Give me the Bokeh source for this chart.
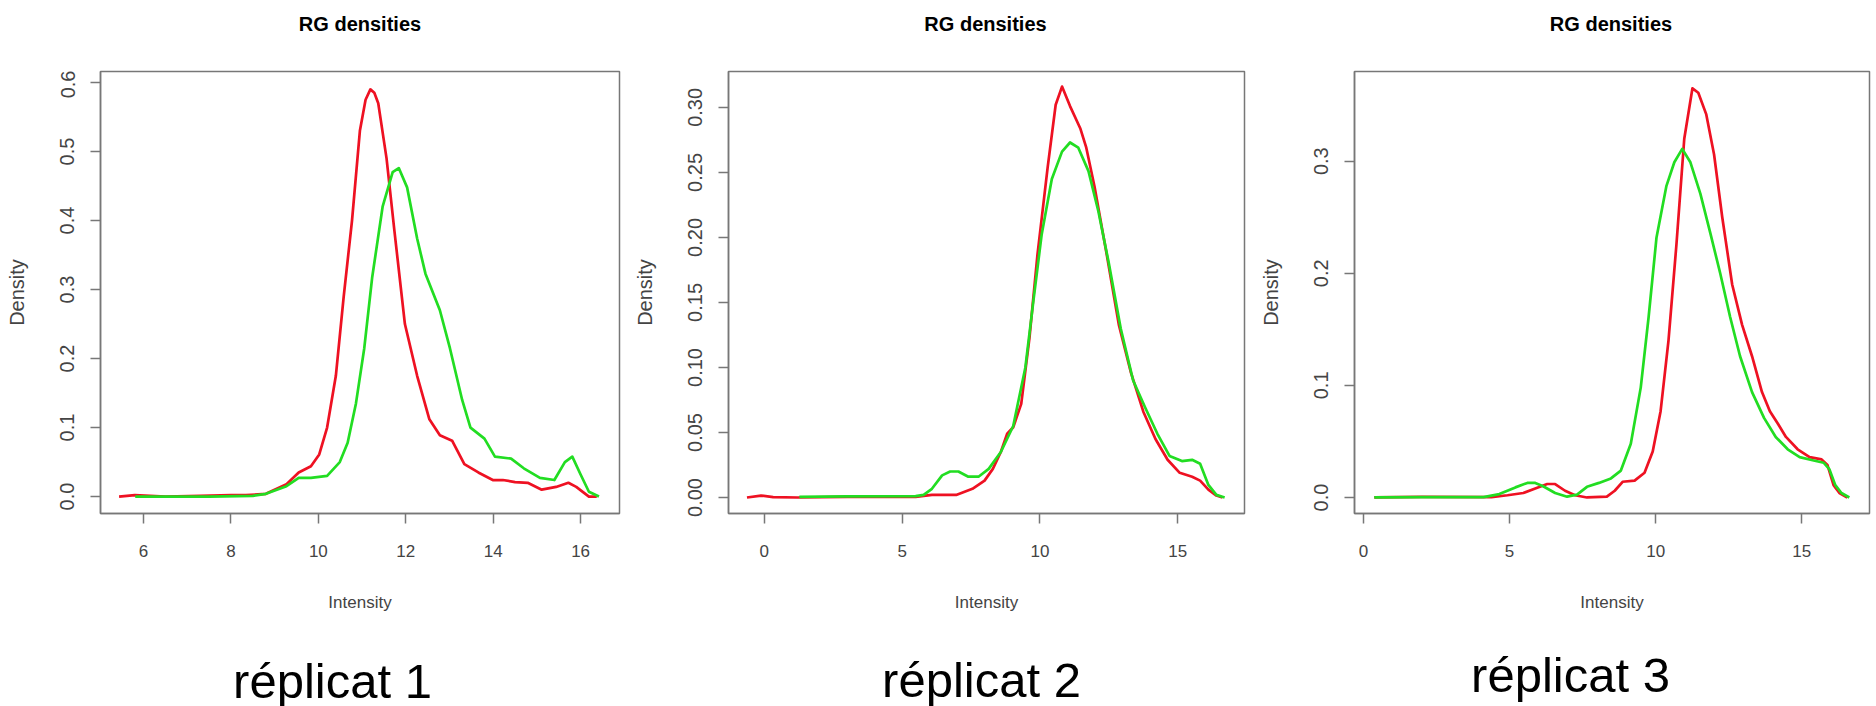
from bokeh.plotting import figure
from bokeh.layouts import row, column
from bokeh.models import FixedTicker, PrintfTickFormatter, Range1d, ColumnDataSource
from bokeh.core.properties import value
from bokeh.embed import file_html
from bokeh.resources import INLINE

# ---------------- data ----------------
title_text = "RG densities"
x_label = "Intensity"
y_label = "Density"
captions = ["réplicat 1", "réplicat 2", "réplicat 3"]

# réplicat 1
r1_x = [5.44, 5.8, 6.5, 7.3, 8.0, 8.34, 8.8, 9.27, 9.55, 9.83, 10.02, 10.2, 10.4, 10.58, 10.77,
        10.95, 11.08, 11.19, 11.28, 11.37, 11.56, 11.74, 11.98, 12.26, 12.54, 12.78, 13.06, 13.34,
        13.66, 13.99, 14.22, 14.5, 14.79, 15.11, 15.44, 15.72, 15.9, 16.19, 16.37]
r1_y = [0.0, 0.002, 0.0, 0.001, 0.002, 0.002, 0.004, 0.018, 0.035, 0.044, 0.061, 0.10, 0.175, 0.29, 0.40,
        0.53, 0.575, 0.59, 0.585, 0.57, 0.49, 0.385, 0.25, 0.175, 0.112, 0.089, 0.081, 0.047,
        0.035, 0.024, 0.024, 0.021, 0.02, 0.01, 0.014, 0.02, 0.014, 0.0, 0.0]
g1_x = [5.81, 6.5, 7.5, 8.5, 8.8, 9.27, 9.55, 9.83, 10.2, 10.49, 10.67, 10.86, 11.05, 11.23, 11.47,
        11.7, 11.84, 12.03, 12.26, 12.45, 12.78, 13.01, 13.29, 13.48, 13.8, 14.04, 14.41, 14.7,
        15.07, 15.4, 15.64, 15.81, 16.0, 16.19, 16.42]
g1_y = [0.0, 0.0, 0.0, 0.001, 0.004, 0.015, 0.027, 0.027, 0.03, 0.05, 0.078, 0.135, 0.215, 0.317, 0.42,
        0.47, 0.476, 0.448, 0.374, 0.323, 0.27, 0.215, 0.14, 0.10, 0.084, 0.058, 0.055, 0.041,
        0.027, 0.024, 0.05, 0.058, 0.032, 0.007, 0.0]

# réplicat 2
r2_x = [-0.63, -0.12, 0.32, 1.2, 3.0, 5.49, 6.08, 6.96, 7.55, 7.99, 8.29, 8.58, 8.81, 9.03, 9.32,
        9.62, 9.91, 10.28, 10.57, 10.8, 11.09, 11.46, 11.68, 11.98, 12.42, 12.86, 13.3, 13.75,
        14.19, 14.63, 15.07, 15.52, 15.81, 16.11, 16.4, 16.62]
r2_y = [0.0, 0.0015, 0.0003, 0.0, 0.0005, 0.0005, 0.002, 0.002, 0.0067, 0.013, 0.022, 0.035, 0.049, 0.054, 0.072,
        0.123, 0.187, 0.254, 0.302, 0.316, 0.301, 0.284, 0.269, 0.239, 0.187, 0.133, 0.096, 0.066,
        0.045, 0.029, 0.019, 0.016, 0.013, 0.006, 0.0015, 0.0]
g2_x = [1.27, 3.0, 5.49, 5.78, 6.08, 6.45, 6.74, 7.04, 7.4, 7.77, 8.14, 8.58, 9.03, 9.47, 9.76,
        10.06, 10.43, 10.8, 11.09, 11.39, 11.76, 12.12, 12.49, 12.93, 13.38, 13.82, 14.26, 14.7,
        15.15, 15.52, 15.81, 16.11, 16.4, 16.7]
g2_y = [0.0005, 0.0008, 0.001, 0.002, 0.0067, 0.017, 0.02, 0.02, 0.016, 0.016, 0.022, 0.035, 0.055, 0.10, 0.151,
        0.202, 0.245, 0.266, 0.273, 0.269, 0.251, 0.22, 0.181, 0.13, 0.09, 0.069, 0.049, 0.032,
        0.028, 0.029, 0.026, 0.0097, 0.002, 0.0]

# réplicat 3
r3_x = [0.37, 2.0, 4.38, 4.93, 5.47, 5.88, 6.29, 6.56, 6.9, 7.24, 7.65, 8.33, 8.6, 8.87, 9.28,
        9.62, 9.9, 10.17, 10.44, 10.71, 10.98, 11.26, 11.46, 11.73, 12.0, 12.28, 12.62, 12.96,
        13.3, 13.64, 13.91, 14.18, 14.46, 14.86, 15.27, 15.68, 15.88, 16.09, 16.29, 16.56]
r3_y = [0.0, 0.0005, 0.0003, 0.002, 0.004, 0.008, 0.012, 0.012, 0.006, 0.002, 0.0, 0.0007, 0.006, 0.014, 0.015,
        0.022, 0.041, 0.077, 0.14, 0.225, 0.32, 0.365, 0.361, 0.342, 0.306, 0.25, 0.19, 0.154,
        0.126, 0.094, 0.077, 0.066, 0.054, 0.043, 0.036, 0.034, 0.029, 0.011, 0.004, 0.0]
g3_x = [0.37, 2.0, 4.11, 4.65, 5.2, 5.61, 5.88, 6.15, 6.56, 6.97, 7.31, 7.65, 8.06, 8.47, 8.81,
        9.15, 9.49, 9.76, 10.03, 10.37, 10.64, 10.91, 11.19, 11.53, 11.87, 12.21, 12.55, 12.89,
        13.3, 13.71, 14.11, 14.52, 14.93, 15.41, 15.75, 15.95, 16.15, 16.36, 16.63]
g3_y = [0.0, 0.0003, 0.0003, 0.003, 0.009, 0.013, 0.013, 0.01, 0.004, 0.0007, 0.0025, 0.0095, 0.013, 0.017, 0.024,
        0.048, 0.098, 0.161, 0.232, 0.278, 0.299, 0.311, 0.299, 0.271, 0.236, 0.2, 0.161, 0.126,
        0.094, 0.071, 0.054, 0.043, 0.036, 0.033, 0.031, 0.025, 0.011, 0.004, 0.0]

# axis ticks per panel
x_ticks = [[6, 8, 10, 12, 14, 16], [0, 5, 10, 15], [0, 5, 10, 15]]
y_ticks = [[0.0, 0.1, 0.2, 0.3, 0.4, 0.5, 0.6],
           [0.0, 0.05, 0.10, 0.15, 0.20, 0.25, 0.30],
           [0.0, 0.1, 0.2, 0.3]]
y_formats = ["%.1f", "%.2f", "%.1f"]
x_ranges = [(5.015, 16.89), (-1.30, 17.42), (-0.307, 17.32)]
y_ranges = [(-0.0245, 0.6159), (-0.0123, 0.3276), (-0.0143, 0.380)]

# ---------------- style / layout ----------------
RED = "#ee1122"
GREEN = "#22dd22"
FRAME = "#777777"
TXT = "#444444"
FONT = "Liberation Sans"
TOTAL_W = 1876
TOP_H = 70       # strip holding the panel titles
MAIN_H = 570     # row of the three density panels
BOT_H = 66       # strip holding the captions

panels = [
    # width, border left/right/top/bottom (px)
    dict(w=630, bl=100, br=11, bt=0, bb=126),
    dict(w=626, bl=96, br=12, bt=0, bb=127),
    dict(w=620, bl=96, br=7, bt=1, bb=127),
]
# text placement inside the strips (px from the strip's top, text centre)
title_cx = [359.5, 985, 1610.5]
title_cy = 23
caption_cx = [332, 981, 1570]
caption_cy = [40, 39, 34]

series = [(r1_x, r1_y, g1_x, g1_y), (r2_x, r2_y, g2_x, g2_y), (r3_x, r3_y, g3_x, g3_y)]


def strip(height, xs, ys, texts, size, style):
    s = figure(width=TOTAL_W, height=height, output_backend="svg", toolbar_location=None,
               title=None, x_range=Range1d(0, TOTAL_W), y_range=Range1d(height, 0),
               x_axis_location=None, y_axis_location=None, min_border=0)
    s.outline_line_color = None
    s.xgrid.visible = False
    s.ygrid.visible = False
    s.background_fill_color = "white"
    s.border_fill_color = "white"
    src = ColumnDataSource(dict(x=xs, y=ys, t=texts))
    s.text(x="x", y="y", text="t", source=src, text_align="center",
           text_baseline="middle", text_font=value(FONT), text_font_size=size,
           text_font_style=style, text_color="#000000")
    return s


top = strip(TOP_H, title_cx, [title_cy] * 3, [title_text] * 3, "20px", "bold")
bottom = strip(BOT_H, caption_cx, caption_cy, captions, "49px", "normal")

figs = []
for i in range(3):
    lp = panels[i]
    rx, ry, gx, gy = series[i]
    p = figure(width=lp["w"], height=MAIN_H, output_backend="svg", toolbar_location=None,
               title=None,
               x_range=Range1d(*x_ranges[i]), y_range=Range1d(*y_ranges[i]),
               min_border_left=lp["bl"], min_border_right=lp["br"],
               min_border_top=lp["bt"], min_border_bottom=lp["bb"])
    p.background_fill_color = "white"
    p.border_fill_color = "white"
    p.outline_line_color = FRAME
    p.outline_line_width = 1.5
    p.xgrid.visible = False
    p.ygrid.visible = False

    p.line(rx, ry, line_color=RED, line_width=2.7, line_join="round")
    p.line(gx, gy, line_color=GREEN, line_width=2.7, line_join="round")

    for ax in (p.xaxis[0], p.yaxis[0]):
        ax.axis_line_color = FRAME
        ax.axis_line_width = 1.5
        ax.major_tick_line_color = FRAME
        ax.major_tick_line_width = 1.5
        ax.major_tick_in = 0
        ax.major_tick_out = 10
        ax.minor_tick_line_color = None
        ax.major_label_text_font = FONT
        ax.major_label_text_color = TXT
        ax.axis_label_text_font = FONT
        ax.axis_label_text_font_style = "normal"
        ax.axis_label_text_color = TXT

    xa = p.xaxis[0]
    xa.ticker = FixedTicker(ticks=x_ticks[i])
    xa.formatter = PrintfTickFormatter(format="%d")
    xa.major_label_text_font_size = "17px"
    xa.major_label_standoff = 21
    xa.axis_label = x_label
    xa.axis_label_text_font_size = "17px"
    xa.axis_label_standoff = 33

    ya = p.yaxis[0]
    ya.ticker = FixedTicker(ticks=y_ticks[i])
    ya.formatter = PrintfTickFormatter(format=y_formats[i])
    ya.major_label_orientation = "vertical"
    ya.major_label_text_font_size = "20px"
    ya.major_label_standoff = 16
    ya.axis_label = y_label
    ya.axis_label_text_font_size = "20px"
    ya.axis_label_standoff = 30
    figs.append(p)

layout = column(top, row(*figs, spacing=0), bottom, spacing=0)
open("out.html", "w").write(file_html(layout, INLINE))
